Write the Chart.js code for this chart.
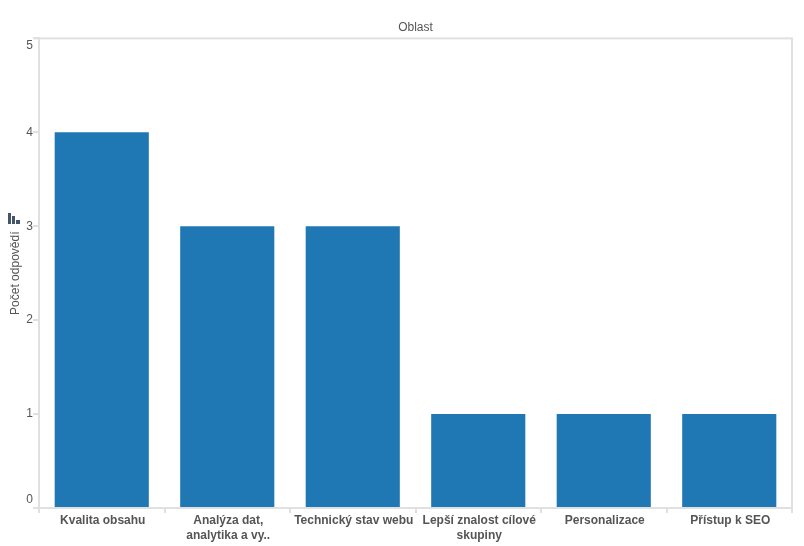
<!DOCTYPE html>
<html>
<head>
<meta charset="utf-8">
<script src="https://cdn.jsdelivr.net/npm/chart.js@4"></script>
<style>
html, body { margin: 0; padding: 0; background: #fff; }
#wrap { width: 804px; height: 546px; }
</style>
</head>
<body>
<div id="wrap"><canvas id="chart" width="804" height="546"></canvas></div>
<script>
var categories = [
    "Kvalita obsahu",
    ["Analýza dat,", "analytika a vy.."],
    "Technický stav webu",
    ["Lepší znalost cílové", "skupiny"],
    "Personalizace",
    "Přístup k SEO"
];
var values = [4, 3, 3, 1, 1, 1];
var yTicks = [0, 1, 2, 3, 4, 5];

var lineColor = "#e0e0e0";
var textColor = "#555555";

// frame on top and right, first and last y labels pulled inside the plot, sort icon
var extras = {
    id: "extras",
    beforeDraw: function(chart) {
        var items = chart.scales.y.getLabelItems();
        items.forEach(function(item) {
            if (item.label === "5") item.options.translation[1] = chart.scales.y.getPixelForValue(5) + 7;
            if (item.label === "0") item.options.translation[1] = chart.scales.y.getPixelForValue(0) - 8;
        });
    },
    afterDraw: function(chart) {
        var ctx = chart.ctx, a = chart.chartArea;
        ctx.save();
        ctx.fillStyle = lineColor;
        ctx.fillRect(a.right - 1, a.top, 2, a.bottom - a.top);
        ctx.fillRect(a.left - 5, a.top - 1, a.right - a.left + 6, 2);
        ctx.fillStyle = "#44546a";
        ctx.fillRect(8, 213, 3, 11);
        ctx.fillRect(12, 216, 3, 8);
        ctx.fillRect(16, 220, 4, 4);
        ctx.restore();
    }
};

new Chart(document.getElementById("chart"), {
    type: "bar",
    data: {
        labels: categories,
        datasets: [{
            label: "Počet odpovědí",
            data: values,
            backgroundColor: "#1f77b4",
            barPercentage: 0.75,
            categoryPercentage: 1
        }]
    },
    options: {
        responsive: false,
        animation: false,
        layout: { padding: { left: 0, right: 12, top: 0, bottom: 0 } },
        plugins: {
            legend: { display: false },
            tooltip: { enabled: false },
            title: {
                display: true,
                text: "Oblast",
                fullSize: false,
                color: textColor,
                font: { family: "Liberation Sans", size: 12, weight: "normal" },
                padding: { top: 20, bottom: 4 }
            }
        },
        scales: {
            x: {
                afterFit: function(scale) { scale.height = 38; },
                grid: { drawOnChartArea: false, color: lineColor, lineWidth: 2, tickLength: 5 },
                border: { color: lineColor, width: 2 },
                ticks: {
                    autoSkip: false,
                    maxRotation: 0,
                    minRotation: 0,
                    padding: 0,
                    labelOffset: 1,
                    color: textColor,
                    font: { family: "Liberation Sans", size: 12, weight: "bold", lineHeight: 1.25 }
                }
            },
            y: {
                min: 0,
                max: 5,
                afterFit: function(scale) { scale.width = 39; },
                afterBuildTicks: function(scale) {
                    scale.ticks = yTicks.map(function(v) { return { value: v }; });
                },
                grid: { drawOnChartArea: false, color: lineColor, lineWidth: 2, tickLength: 6 },
                border: { color: lineColor, width: 2 },
                title: {
                    display: true,
                    text: "Počet odpovědí",
                    color: textColor,
                    font: { family: "Liberation Sans", size: 12, weight: "normal" },
                    padding: { top: 8, bottom: 0 }
                },
                ticks: {
                    padding: 0,
                    color: textColor,
                    font: { family: "Liberation Sans", size: 12 }
                }
            }
        }
    },
    plugins: [extras]
});
</script>
</body>
</html>
